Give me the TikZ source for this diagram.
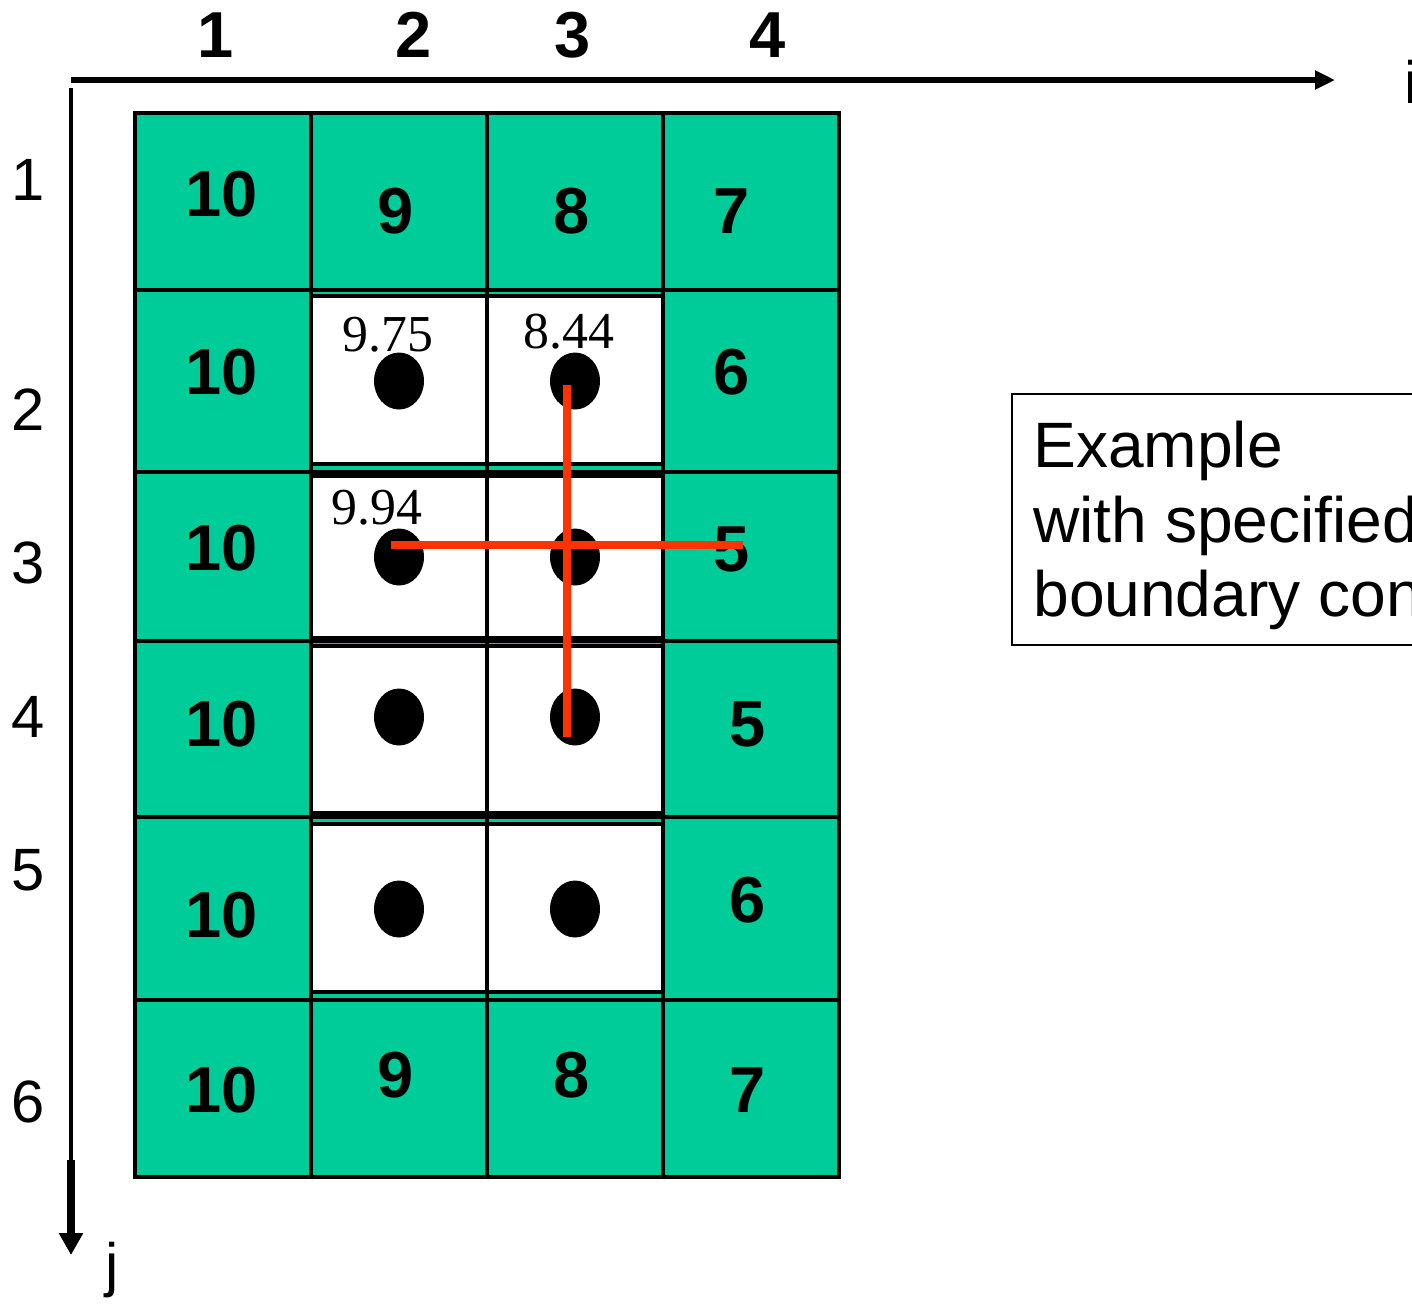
\documentclass[tikz,border=0pt]{standalone}
\usepackage{fontspec}
\setmainfont{Liberation Sans}
\newfontfamily\serifnum{Liberation Serif}
\usetikzlibrary{arrows.meta,shapes.geometric}
\definecolor{bcgreen}{RGB}{0,204,153}
\definecolor{stencilred}{RGB}{255,51,0}

\begin{document}
\begin{tikzpicture}[
    x=0.02cm, y=-0.02cm,
    fixedcell/.style={draw=black, line width=2.3pt, fill=bcgreen},
    freecell/.style={draw=black, line width=1.9pt, fill=white},
    bcval/.style={font=\fontsize{37}{37}\selectfont\bfseries, inner sep=0pt},
    guess/.style={font=\serifnum\fontsize{29.5}{30}\selectfont, inner sep=0pt},
    idx/.style={font=\fontsize{34}{34}\selectfont, inner sep=0pt},
    colidx/.style={font=\fontsize{37}{37}\selectfont\bfseries, inner sep=0pt},
    unknown/.style={ellipse, fill=black, minimum width=1cm, minimum height=1.14cm, inner sep=0pt},
    stencil/.style={draw=stencilred, line width=4.5pt},
    notetext/.style={font=\fontsize{36.5}{40}\selectfont, anchor=base west, inner sep=0pt}
]
\useasboundingbox (0,0) rectangle (1412,1303);
\clip (0,0) rectangle (1412,1303);

% Grid: boundary cells first, interior cells on top
\foreach \xa/\xb in {135/311,311/487,487/663,663/839}
  \foreach \ya/\yb in {113/290,290/472,472/641,641/817,817/1000,1000/1177}
    \draw[fixedcell] (\xa,\ya) rectangle (\xb,\yb);
\foreach \xa/\xb in {311/487,487/663}
  \foreach \ya/\yb in {296/464,476/638,646/813,824/992}
    \draw[freecell] (\xa,\ya) rectangle (\xb,\yb);

% Axes
\coordinate (iorig) at (71,80);
\coordinate (iend)  at (1335,80);
\coordinate (jorig) at (71,88);
\coordinate (jmid)  at (71,1160);
\coordinate (jend)  at (71,1255);
\draw[line width=3.4pt, -{Triangle[length=0.4cm, width=0.36cm]}] (iorig) -- (iend);
\draw[line width=2.3pt] (jorig) -- (jmid);
\draw[line width=4.5pt, -{Triangle[length=0.44cm, width=0.46cm]}] (jmid) -- (jend);
\node[idx, anchor=west] (ilabel) at (1404,82) {i};
\node[idx] (jlabel) at (112,1270) {j};

% Index labels
\node[colidx] (col1) at (216,35) {1};
\node[colidx] (col2) at (414,35) {2};
\node[colidx] (col3) at (573,35) {3};
\node[colidx] (col4) at (768,35) {4};
\node[idx] (row1) at (28,180)  {1};
\node[idx] (row2) at (28,410)  {2};
\node[idx] (row3) at (28,563)  {3};
\node[idx] (row4) at (28,717)  {4};
\node[idx] (row5) at (28,870)  {5};
\node[idx] (row6) at (28,1102) {6};

% Specified boundary values
\node[bcval] (b11) at (222,194)  {10};
\node[bcval] (b21) at (396,211)  {9};
\node[bcval] (b31) at (572,211)  {8};
\node[bcval] (b41) at (732,211)  {7};
\node[bcval] (b12) at (222,372)  {10};
\node[bcval] (b42) at (732,372)  {6};
\node[bcval] (b13) at (222,548)  {10};
\node[bcval] (b43) at (732,549)  {5};
\node[bcval] (b14) at (222,724)  {10};
\node[bcval] (b44) at (748,724)  {5};
\node[bcval] (b15) at (222,915)  {10};
\node[bcval] (b45) at (748,900)  {6};
\node[bcval] (b16) at (222,1090) {10};
\node[bcval] (b26) at (396,1075) {9};
\node[bcval] (b36) at (572,1075) {8};
\node[bcval] (b46) at (748,1090) {7};

% Interior unknowns
\foreach \px/\py/\nm in {399/381/p22,575/381/p32,399/557/p23,575/557/p33,
                         399/717/p24,575/717/p34,399/909/p25,575/909/p35}
  \node[unknown] (\nm) at (\px,\py) {};
\node[guess] (g22) at (388,335) {9.75};
\node[guess] (g32) at (569,332) {8.44};
\node[guess] (g23) at (377,508) {9.94};

% Five-point stencil
\coordinate (sn) at (567,385);
\coordinate (ss) at (567,737);
\coordinate (sw) at (391,545);
\coordinate (se) at (743,545);
\draw[stencil] (sn) -- (ss);
\draw[stencil] (sw) -- (se);

% Note box
\draw[line width=1.1pt] (1012,394) rectangle (1440,645);
\node[notetext] (note1) at (1033,467) {Example};
\node[notetext] (note2) at (1033,542) {with specified};
\node[notetext] (note3) at (1033,616) {boundary conditions};

\end{tikzpicture}
\end{document}
